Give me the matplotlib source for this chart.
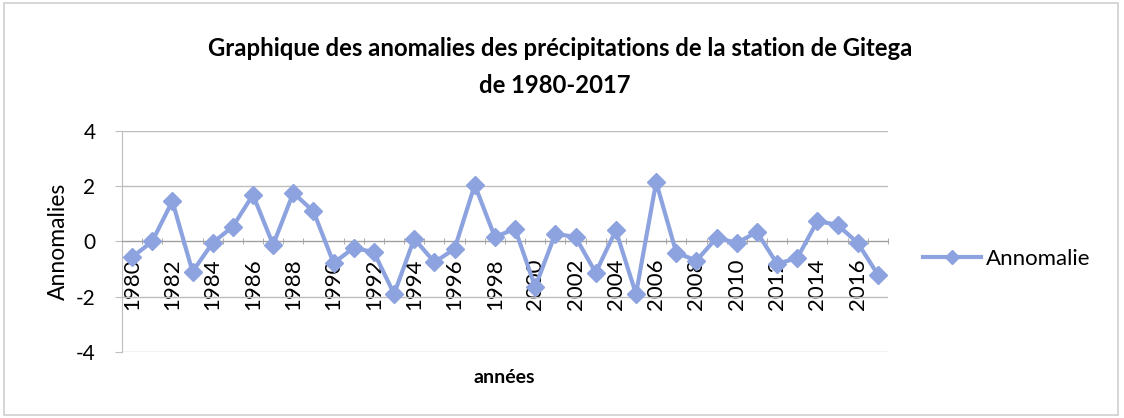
import matplotlib
matplotlib.use('Agg')
import matplotlib.pyplot as plt
from matplotlib.patches import Rectangle

# Anomalies des précipitations, station de Gitega
years = list(range(1980, 2018))
anomalies = [-0.57, 0.0, 1.46, -1.09, -0.05, 0.54, 1.69, -0.12, 1.76, 1.09,
             -0.78, -0.23, -0.39, -1.90, 0.10, -0.75, -0.27, 2.05, 0.16, 0.46,
             -1.65, 0.28, 0.16, -1.13, 0.40, -1.90, 2.15, -0.41, -0.69, 0.13,
             -0.05, 0.34, -0.81, -0.60, 0.74, 0.60, -0.05, -1.20]
tick_labels = [str(y) for y in years[::2]]
y_ticks = [-4, -2, 0, 2, 4]

plt.rcParams['font.family'] = ['Lato', 'DejaVu Sans']
line_color = '#8DA3E0'
grid_color = '#BDBDBD'

fig = plt.figure(figsize=(11.24, 4.18), dpi=100)
fig.patches.append(Rectangle((0.004, 0.007), 0.991, 0.985, transform=fig.transFigure,
                             fill=False, edgecolor='#D0D0D0', linewidth=1.2))

ax = fig.add_axes([0.1085, 0.158, 0.6815, 0.5286])
x = list(range(len(years)))
ax.plot(x, anomalies, color=line_color, linewidth=3, marker='D', markersize=9,
        markeredgecolor=line_color, label='Annomalie', zorder=3)

ax.set_xlim(-0.5, len(years) - 0.5)
ax.set_ylim(-4, 4)
ax.set_yticks(y_ticks)
ax.set_yticklabels([str(v) for v in y_ticks], fontsize=15)
ax.yaxis.grid(True, color=grid_color, linewidth=1)
ax.set_axisbelow(True)

for side in ['top', 'right']:
    ax.spines[side].set_visible(False)
ax.spines['left'].set_color(grid_color)
ax.spines['bottom'].set_position(('data', 0))
ax.spines['bottom'].set_color('#9E9E9E')
ax.tick_params(axis='y', length=5, color=grid_color, pad=14)

ax.set_xticks(x[::2])
ax.set_xticklabels(tick_labels, rotation=90, fontsize=16)
ax.set_xticks([i - 0.5 for i in range(len(years) + 1)], minor=True)
ax.tick_params(axis='x', which='major', length=0, pad=12)
ax.tick_params(axis='x', which='minor', length=4, color='#9E9E9E', direction='inout')

ax.set_ylabel('Annomalies', fontsize=16.5, labelpad=5)
fig.text(0.449, 0.097, 'années', fontsize=14, fontweight='bold', ha='center', va='center')
fig.text(0.498, 0.885, 'Graphique des anomalies des précipitations de la station de Gitega',
         fontsize=17.2, fontweight='bold', ha='center', va='center')
fig.text(0.494, 0.795, 'de 1980-2017', fontsize=17.2, fontweight='bold', ha='center', va='center')

ax.legend(loc='center left', bbox_to_anchor=(1.02, 0.42), frameon=False, fontsize=16,
          handlelength=2.6, handletextpad=0.2, markerscale=0.8)

fig.savefig('out.png', dpi=100)
